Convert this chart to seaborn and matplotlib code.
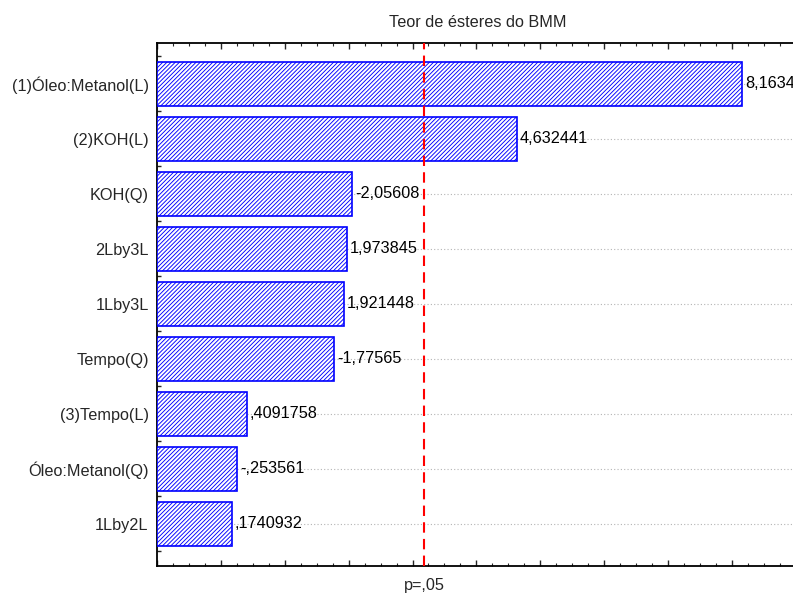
import numpy as np
import pandas as pd
import matplotlib
matplotlib.use("Agg")
import matplotlib.pyplot as plt
import matplotlib.transforms as mtransforms
from matplotlib.ticker import MultipleLocator
import seaborn as sns

# Pareto chart data (standardized effects)
effects = ["(1)Óleo:Metanol(L)", "(2)KOH(L)", "KOH(Q)", "2Lby3L", "1Lby3L",
           "Tempo(Q)", "(3)Tempo(L)", "Óleo:Metanol(Q)", "1Lby2L"]
t_values = [8.1634, 4.632441, -2.05608, 1.973845, 1.921448,
            -1.77565, 0.4091758, -0.253561, 0.1740932]
t_crit = 3.182446
p_label = "p=,05"
title = "Teor de ésteres do BMM"

x_min, x_max = -1.0, 9.05


def stat_fmt(v):
    s = f"{v:.7g}"
    s = s.replace("-0.", "-.")
    if s.startswith("0."):
        s = s[1:]
    return s.replace(".", ",")


df = pd.DataFrame({"effect": effects, "t": t_values})
df["abs_t"] = df["t"].abs()

sns.set_style("ticks")
plt.rcParams["font.family"] = ["Liberation Sans", "DejaVu Sans"]
plt.rcParams["font.size"] = 11.7
plt.rcParams["hatch.linewidth"] = 0.65

fig = plt.figure(figsize=(7.93, 5.94), dpi=100)
ax = fig.add_axes([157 / 793, 28 / 594, 642 / 793, 523.3 / 594])

sns.barplot(data=df, x="abs_t", y="effect", orient="h", ax=ax,
            color="white", edgecolor="#0000ff", linewidth=1.2,
            hatch="////////", errorbar=None, width=0.8, zorder=3)

# Statistica draws the bars from the left edge of the axis
for patch, v in zip(ax.patches, df["abs_t"]):
    patch.set_x(x_min)
    patch.set_width(v - x_min)
    patch.set_facecolor("white")
    patch.set_edgecolor("#0000ff")
    try:
        patch.set_hatchcolor("#0000ff")
    except AttributeError:
        pass

for i, (v, t) in enumerate(zip(df["abs_t"], df["t"])):
    ax.annotate(stat_fmt(t), xy=(v, i), xytext=(2, 0), textcoords="offset points",
                ha="left", va="center", fontsize=11.7, color="black",
                annotation_clip=False, zorder=5)

ax.axvline(t_crit, color="#ff0000", lw=1.5, dashes=(5, 3), zorder=4)

for i in range(len(effects)):
    ax.axhline(i, color="#b4b4b4", lw=0.8, ls=(0, (1, 2)), zorder=1)

trans = mtransforms.blended_transform_factory(ax.transData, ax.transAxes)
ax.annotate(p_label, xy=(t_crit, 0), xycoords=trans, xytext=(0, -14),
            textcoords="offset points", ha="center", va="center", fontsize=11.7)

ax.set_xlim(x_min, x_max)
ax.set_ylim(8.77, -0.745)
ax.set_xlabel("")
ax.set_ylabel("")
ax.set_title(title, fontsize=11.7, pad=11)

ax.xaxis.set_major_locator(MultipleLocator(1))
ax.xaxis.set_minor_locator(MultipleLocator(0.25))
ax.set_xticklabels([])
ax.set_yticks(range(len(effects)))
ax.set_yticklabels(effects)
ax.set_yticks(np.arange(-0.5, len(effects), 1.0), minor=True)

ax.tick_params(axis="x", which="major", direction="in", length=4, width=1,
               top=True, bottom=True, labelbottom=False)
ax.tick_params(axis="x", which="minor", direction="in", length=2.5, width=0.8,
               top=True, bottom=True)
ax.tick_params(axis="y", which="both", direction="in", length=3, width=1,
               left=True, right=True, pad=6)

for sp in ax.spines.values():
    sp.set_visible(True)
    sp.set_linewidth(1.3)
    sp.set_color("black")

fig.savefig("out.png", dpi=100)
